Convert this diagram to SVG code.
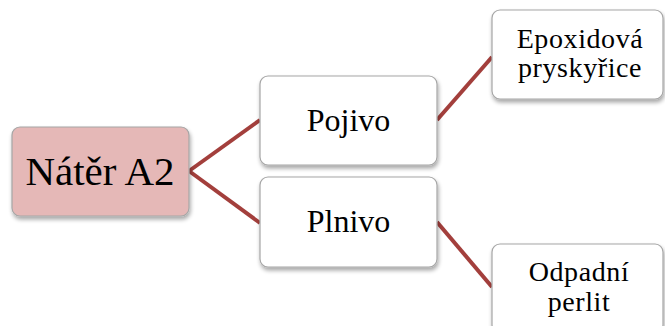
<svg xmlns="http://www.w3.org/2000/svg" width="665" height="326" viewBox="0 0 665 326">
<style>
.box{fill:#ffffff;stroke:#a6a6a6;stroke-width:1.2}
.root{fill:#e5b8b7;stroke:#a6a6a6;stroke-width:1.2}
.t{font-family:"Liberation Serif","Times New Roman",serif;fill:#000;text-anchor:middle}
.s{font-size:28px;letter-spacing:0.6px}
.conn{stroke:#a33f3c;stroke-width:4;fill:none}
</style>
<defs>
<filter id="sh" x="-10%" y="-10%" width="130%" height="140%">
<feGaussianBlur in="SourceAlpha" stdDeviation="2"/>
<feOffset dx="1" dy="3" result="b"/>
<feComponentTransfer><feFuncA type="linear" slope="0.35"/></feComponentTransfer>
<feMerge><feMergeNode/><feMergeNode in="SourceGraphic"/></feMerge>
</filter>
</defs>
<rect width="665" height="326" fill="#ffffff"/>
<g id="connectors">
<line class="conn" x1="189" y1="171" x2="260" y2="120"/>
<line class="conn" x1="189" y1="171" x2="260" y2="223"/>
<line class="conn" x1="437" y1="120" x2="492" y2="57"/>
<line class="conn" x1="437" y1="222" x2="492" y2="287"/>
</g>
<g id="root">
<rect class="root" x="12" y="127" width="177" height="89" rx="8" filter="url(#sh)"/>
<text class="t" x="100" y="185" font-size="41">Nátěr A2</text>
</g>
<g id="pojivo">
<rect class="box" x="260" y="76" width="177" height="89" rx="8" filter="url(#sh)"/>
<text class="t" x="348.5" y="131" font-size="32">Pojivo</text>
</g>
<g id="plnivo">
<rect class="box" x="260" y="177" width="177" height="90" rx="8" filter="url(#sh)"/>
<text class="t" x="348.5" y="232" font-size="32">Plnivo</text>
</g>
<g id="epoxid">
<rect class="box" x="492" y="10" width="171" height="89" rx="8" filter="url(#sh)"/>
<text class="t s" x="580" y="48">Epoxidová</text>
<text class="t s" x="580" y="77">pryskyřice</text>
</g>
<g id="perlit">
<rect class="box" x="492" y="244" width="171" height="89" rx="8" filter="url(#sh)"/>
<text class="t s" x="579" y="281">Odpadní</text>
<text class="t s" x="579" y="311">perlit</text>
</g>
</svg>
